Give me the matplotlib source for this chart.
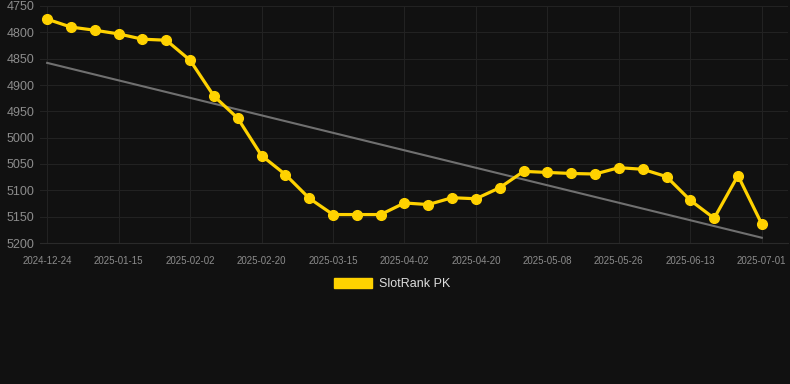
import matplotlib.pyplot as plt
import matplotlib.patches as mpatches

plt.rcParams['font.family'] = ['Liberation Sans', 'DejaVu Sans']

# ---- data ----
tick_labels = ['2024-12-24', '2025-01-15', '2025-02-02', '2025-02-20', '2025-03-15', '2025-04-02',
               '2025-04-20', '2025-05-08', '2025-05-26', '2025-06-13', '2025-07-01']
rank = [4775, 4790, 4796, 4803, 4813, 4815, 4853, 4921, 4963, 5034,
        5070, 5115, 5146, 5146, 5146, 5124, 5127, 5114, 5116, 5095,
        5064, 5066, 5068, 5069, 5057, 5060, 5074, 5119, 5153, 5072, 5164]
trend_start, trend_end = 4858, 5190

bg = '#111111'
yellow = '#FFD200'

fig = plt.figure(figsize=(7.9, 3.84), dpi=100, facecolor=bg)
ax = fig.add_axes([40 / 790, (384 - 243) / 384, 748 / 790, 237 / 384])
ax.set_facecolor(bg)

x = list(range(len(rank)))
ax.plot([x[0], x[-1]], [trend_start, trend_end], color='#707070', linewidth=1.5, zorder=2)
ax.plot(x, rank, color=yellow, linewidth=2.3, marker='o', markersize=7, zorder=3)

ax.set_ylim(5200, 4750)
ax.set_xlim(-0.3, 31.1)
ax.set_yticks(range(4750, 5201, 50))
ax.set_xticks(range(0, len(rank), 3))
ax.set_xticklabels(tick_labels)

ax.grid(True, color='#222222', linewidth=0.8)
ax.set_axisbelow(True)
for s in ['top', 'right', 'left']:
    ax.spines[s].set_visible(False)
ax.spines['bottom'].set_color('#2a2a2a')
ax.tick_params(axis='y', length=0, pad=4, labelsize=9, labelcolor='#8c8c8c')
ax.tick_params(axis='x', length=0, pad=9, labelsize=7, labelcolor='#8c8c8c')

handle = mpatches.Patch(color=yellow, label='SlotRank PK')
leg = fig.legend(handles=[handle], loc='center', bbox_to_anchor=(0.496, 1 - 284 / 384), frameon=False,
                 fontsize=9, labelcolor='#dddddd', handlelength=3.1, handleheight=0.9, handletextpad=0.5)

plt.savefig('out.png', dpi=100, facecolor=bg)
